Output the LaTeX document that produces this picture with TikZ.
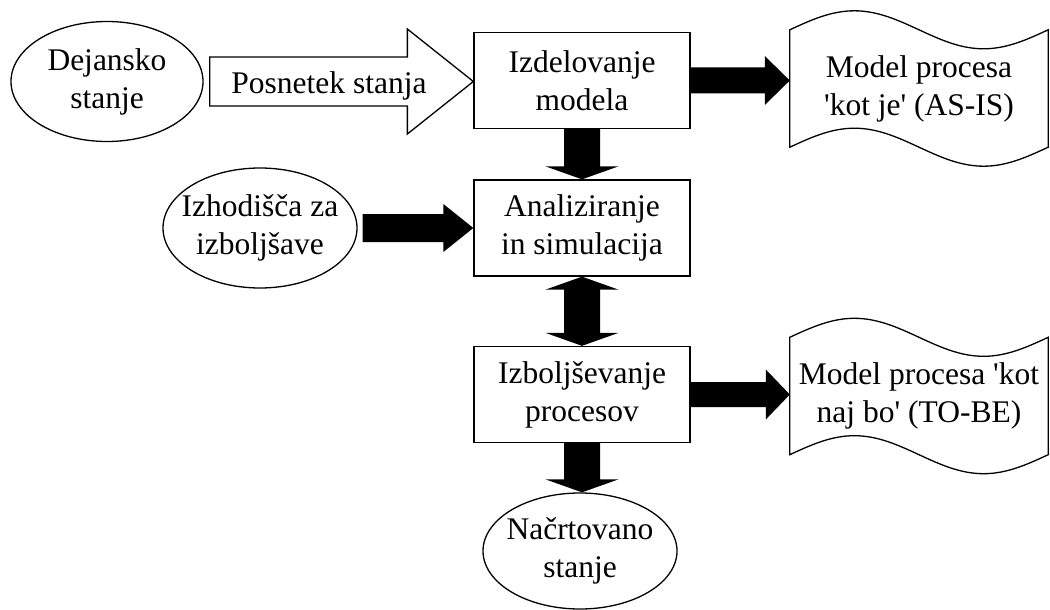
\documentclass[tikz,border=0pt]{standalone}
\usepackage{fontspec}
\setmainfont{Liberation Serif}
\usetikzlibrary{calc,shapes.geometric}

% horizontal block arrow: start, tip, shaft half-height, head half-height, head length, style
\newcommand\fatH[6]{%
  \path[#6] let \p1=(#1), \p2=(#2) in
    (\x1,\y1+#3pt) -- (\x2-#5pt,\y1+#3pt) -- (\x2-#5pt,\y1+#4pt) -- (\x2,\y1)
    -- (\x2-#5pt,\y1-#4pt) -- (\x2-#5pt,\y1-#3pt) -- (\x1,\y1-#3pt) -- cycle;}
% downward block arrow
\newcommand\fatV[6]{%
  \path[#6] let \p1=(#1), \p2=(#2) in
    (\x1-#3pt,\y1) -- (\x1-#3pt,\y2+#5pt) -- (\x1-#4pt,\y2+#5pt) -- (\x1,\y2)
    -- (\x1+#4pt,\y2+#5pt) -- (\x1+#3pt,\y2+#5pt) -- (\x1+#3pt,\y1) -- cycle;}
% vertical block arrow with a head at both ends
\newcommand\fatVV[6]{%
  \path[#6] let \p1=(#1), \p2=(#2) in
    (\x1,\y1) -- (\x1+#4pt,\y1-#5pt) -- (\x1+#3pt,\y1-#5pt) -- (\x1+#3pt,\y2+#5pt)
    -- (\x1+#4pt,\y2+#5pt) -- (\x1,\y2) -- (\x1-#4pt,\y2+#5pt) -- (\x1-#3pt,\y2+#5pt)
    -- (\x1-#3pt,\y1-#5pt) -- (\x1-#4pt,\y1-#5pt) -- cycle;}
% punched-tape outline around a node, wave amplitude #2
\newcommand\tapeoutline[2]{%
  \draw[line width=1.3pt, line join=miter] let \p1=(#1.north west), \p2=(#1.south east),
    \n1={(\x2-\x1)/4} in
    (\p1) sin ++({\n1*1pt},#2pt) cos ++({\n1*1pt},-#2pt) sin ++({\n1*1pt},-#2pt) cos ++({\n1*1pt},#2pt)
    -- (\x2,\y2) sin ++({-\n1*1pt},-#2pt) cos ++({-\n1*1pt},#2pt) sin ++({-\n1*1pt},#2pt) cos ++({-\n1*1pt},-#2pt)
    -- cycle;}

\begin{document}
\begin{tikzpicture}[x=1pt,y=-1pt,
  lbl/.style={font=\fontsize{31.5}{38}\selectfont, align=center, inner sep=0pt},
  proc/.style={lbl, draw, line width=1.3pt, minimum width=216pt, minimum height=96pt},
  oval/.style={lbl, draw, ellipse, line width=1.3pt, inner sep=-25pt},
  tapedoc/.style={lbl, minimum width=258pt, minimum height=117pt},
  solidarrow/.style={fill=black},
  hollowarrow/.style={draw, fill=white, line width=1.3pt, line join=miter}]
\useasboundingbox (0,0) rectangle (1050,610);

% nodes
\node[oval, minimum width=192pt, minimum height=120pt] (dej) at (107,81.5) {Dejansko\\stanje};
\node[proc] (izd) at (582,80.5) {Izdelovanje\\modela};
\node[tapedoc] (asis) at (919,88.5) {Model procesa\\\textquotesingle kot je\textquotesingle{} (AS-IS)};
\node[proc] (ana) at (582,228) {Analiziranje\\in simulacija};
\node[oval, minimum width=194pt, minimum height=120pt] (izh) at (260,228) {Izhodišča za\\izboljšave};
\node[proc] (izb) at (582,394.5) {Izboljševanje\\procesov};
\node[tapedoc] (tobe) at (919,396) {Model procesa \textquotesingle kot\\naj bo\textquotesingle{} (TO-BE)};
\node[oval, minimum width=194pt, minimum height=116pt] (nac) at (580,551) {Načrtovano\\stanje};

% document outlines
\tapeoutline{asis}{19}
\tapeoutline{tobe}{19}

% hollow arrow with its label
\fatH{[xshift=6pt]dej.east}{izd.west}{24.5}{52.5}{66}{hollowarrow}
\node[lbl] (posn) at (329,85.5) {Posnetek stanja};

% solid block arrows
\fatH{izd.east}{asis.west}{13}{24.5}{25}{solidarrow}
\fatH{[xshift=5pt]izh.east}{ana.west}{14}{24}{30}{solidarrow}
\fatH{izb.east}{tobe.west}{12.5}{25}{24}{solidarrow}
\fatV{izd.south}{ana.north}{18}{36.5}{13}{solidarrow}
\fatVV{ana.south}{izb.north}{18}{36.5}{13}{solidarrow}
\fatV{izb.south}{nac.north}{18}{36.5}{13}{solidarrow}
\end{tikzpicture}
\end{document}
